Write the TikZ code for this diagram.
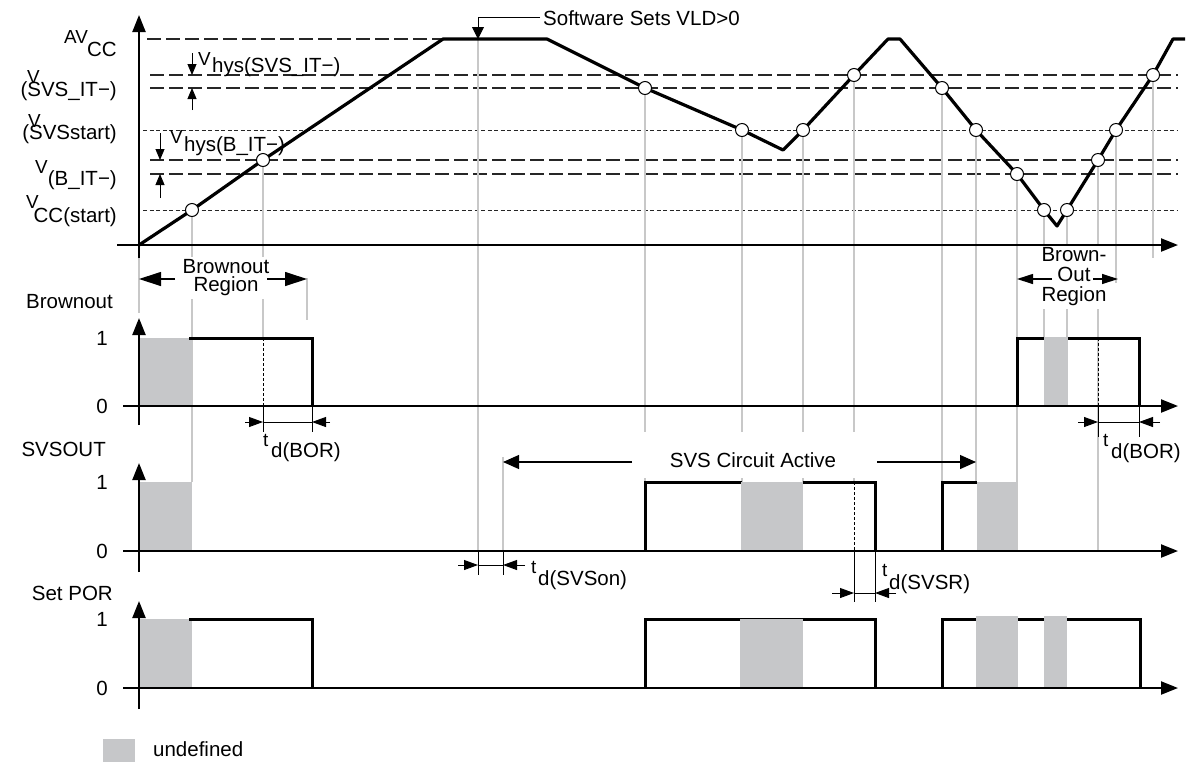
\documentclass[tikz,border=0pt]{standalone}
\usepackage{fontspec}
\usepackage{graphicx}
\setmainfont{Liberation Sans}
\usetikzlibrary{arrows.meta}
\definecolor{gfill}{RGB}{198,199,201}
\definecolor{gline}{RGB}{200,200,200}
\newcommand{\sml}[1]{\scalebox{0.92}{#1}}
\begin{document}
\begin{tikzpicture}[x=1pt,y=-1pt,
  every node/.style={inner sep=0pt, font=\fontsize{20.5}{24}\selectfont},
  axis/.style={line width=2.2pt, -{Triangle[length=17pt,width=13pt]}},
  sig/.style={line width=3pt, line join=miter},
  curve/.style={line width=3.2pt, line join=round},
  gl/.style={gline, line width=2pt},
  ldash/.style={line width=1.2pt, black!85, dash pattern=on 14pt off 5pt},
  ldot/.style={line width=1pt, black!85, dash pattern=on 4pt off 2.5pt},
  tl/.style={line width=0.9pt},
  vdash/.style={line width=0.9pt, dash pattern=on 3pt off 2pt},
  tarr/.style={line width=0.9pt, -{Triangle[length=14pt,width=10pt]}},
  harr/.style={line width=0.9pt, -{Triangle[length=11pt,width=9pt]}},
  bigarr/.style={line width=1.2pt, -{Triangle[length=22pt,width=14pt]}},
  medarr/.style={line width=1.2pt, -{Triangle[length=16pt,width=10pt]}},
  svsarr/.style={line width=1.2pt, -{Triangle[length=16pt,width=14pt]}},
  circ/.style={circle, draw, fill=white, line width=1pt, minimum size=13pt, inner sep=0pt},
  gbox/.style={fill=gfill}
]
\useasboundingbox (0,0) rectangle (1188,764);

% ---------- level lines ----------
\draw[ldash] (147,39) -- (443,39);
\draw[ldash] (150,75) -- (1178,75);
\draw[ldash] (150,88) -- (1178,88);
\draw[ldot] (143,130) -- (1178,130);
\draw[ldash] (150,160) -- (1178,160);
\draw[ldash] (150,174) -- (1178,174);
\draw[ldot] (143,210) -- (1178,210);

% ---------- crossing points ----------
\coordinate (p1) at (192,210);
\coordinate (p2) at (263,160);
\coordinate (p3) at (645,88);
\coordinate (p4) at (742,130);
\coordinate (p5) at (803,130);
\coordinate (p6) at (854,75);
\coordinate (p7) at (942,88);
\coordinate (p8) at (976,130);
\coordinate (p9) at (1017,174);
\coordinate (p10) at (1044,210);
\coordinate (p11) at (1067,210);
\coordinate (p12) at (1098,160);
\coordinate (p13) at (1116,130);
\coordinate (p14) at (1153,75);
\coordinate (vld) at (478,39);

% ---------- gray guide lines ----------
\draw[gl] (p1) -- (192,482);
\draw[gl] (p2) -- (263,338);
\draw[gl] (139,253) -- (139,313);
\draw[gl] (307,278) -- (307,320);
\draw[gl] (vld) -- (478,551);
\draw[gl] (503,457) -- (503,551);
\draw[gl] (p3) -- (645,482);
\draw[gl] (p4) -- (742,482);
\draw[gl] (p5) -- (803,482);
\draw[gl] (p6) -- (854,482);
\draw[gl] (p7) -- (942,482);
\draw[gl] (p8) -- (976,482);
\draw[gl] (p9) -- (1017,551);
\draw[gl] (p10) -- (1044,338);
\draw[gl] (p11) -- (1067,338);
\draw[gl] (p12) -- (1098,551);
\draw[gl] (p13) -- (1116,283);
\draw[gl] (p14) -- (1153,258);

% ---------- white label backgrounds and labels ----------
\node[fill=white, align=center, font=\fontsize{20.5}{18}\selectfont, inner xsep=2pt, inner ysep=3pt] (bor1) at (226,278) {Brownout\\Region};
\node[fill=white, align=center, font=\fontsize{20.5}{20}\selectfont, inner xsep=2pt, inner ysep=3pt] (bor2) at (1074,277) {Brown-\\Out\\Region};
\node[fill=white, minimum width=245pt, minimum height=46pt] (svsbg) at (754.5,455) {};
\node[anchor=base] (svs) at (753,467) {SVS Circuit Active};

\coordinate (b1l) at (175,279);
\coordinate (b1r) at (267,279);
\draw[bigarr] (b1l) -- (139,279);
\draw[bigarr] (b1r) -- (307,279);
\coordinate (b2l) at (1052,279);
\coordinate (b2r) at (1093,279);
\draw[medarr] (b2l) -- (1017,279);
\draw[medarr] (b2r) -- (1118,279);
\coordinate (sl) at (632,462);
\coordinate (sr) at (877,462);
\draw[svsarr] (sl) -- (503,462);
\draw[svsarr] (sr) -- (976,462);

% ---------- main axes ----------
\draw[axis] (117,245) -- (1178,245);
\draw[axis] (139,258) -- (139,15);

% ---------- supply curve ----------
\draw[curve] (139,245) -- (p1) -- (p2) -- (443,39) -- (547,39) -- (p3) -- (p4) -- (783,150)
  -- (p5) -- (p6) -- (888,39) -- (900,39) -- (p7) -- (p8) -- (p9) -- (p10) -- (1057,226)
  -- (p11) -- (p12) -- (p13) -- (p14) -- (1173,39) -- (1185,39);
\foreach \i in {1,...,14} { \node[circ] (c\i) at (p\i) {}; }

% ---------- Software sets VLD ----------
\node[anchor=base west] (sw) at (543,25) {Software Sets VLD>0};
\draw[line width=0.9pt, -{Triangle[length=12pt,width=12pt]}] ([xshift=-3pt]sw.west) -| (vld);

% ---------- left level labels ----------
\node[anchor=base west] (lav) at (64,43) {\sml{AV}};
\node[anchor=base east] (lcc) at (117,56) {CC};
\node[anchor=base west] (lv1) at (27,83) {\sml{V}};
\node[anchor=base east] (ls1) at (117,96) {(SVS\_IT−)};
\node[anchor=base west] (lv2) at (28,127) {\sml{V}};
\node[anchor=base east] (ls2) at (117,139) {(SVSstart)};
\node[anchor=base west] (lv3) at (35,173) {\sml{V}};
\node[anchor=base east] (ls3) at (117,185) {(B\_IT−)};
\node[anchor=base west] (lv4) at (26,208) {\sml{V}};
\node[anchor=base east] (ls4) at (117,222) {CC(start)};

% ---------- hysteresis ----------
\node[anchor=base west] (hv1) at (198,65) {\sml{V}};
\node[anchor=base west] (hs1) at (212,72) {hys(SVS\_IT−)};
\node[anchor=base west] (hv2) at (170,143) {\sml{V}};
\node[anchor=base west] (hs2) at (184,151) {hys(B\_IT−)};
\draw[harr] (192,53) -- (192,75);
\draw[harr] (192,110) -- (192,88);
\draw[harr] (160,133) -- (160,160);
\draw[harr] (160,198) -- (160,174);

% ---------- Brownout ----------
\node[anchor=base east] (brl) at (113,308) {Brownout};
\node[anchor=east] (br1) at (108,338) {1};
\node[anchor=east] (br0) at (108,406) {0};
\fill[gbox] (139,338) rectangle (192,406);
\draw[sig] (189,338) -- (312,338) -- (312,406);
\draw[sig] (1017,406) -- (1017,338) -- (1139,338) -- (1139,406);
\fill[gbox] (1044,337) rectangle (1068,406);
\draw[vdash] (263,338) -- (263,406);
\draw[vdash] (1098,338) -- (1098,406);
\draw[axis] (123,406) -- (1178,406);
\draw[axis] (139,425) -- (139,318);
% t_d(BOR)
\draw[tl] (263,406) -- (263,432);
\draw[tl] (312,406) -- (312,432);
\draw[tl] (263,422) -- (312,422);
\draw[tarr] (245,422) -- (263,422);
\draw[tarr] (330,422) -- (312,422);
\node[anchor=base west] (tb1) at (263,446) {\sml{t}};
\node[anchor=base west] (db1) at (271,457) {d(BOR)};
\draw[tl] (1098,406) -- (1098,437);
\draw[tl] (1139,406) -- (1139,437);
\draw[tl] (1098,422) -- (1139,422);
\draw[tarr] (1078,422) -- (1098,422);
\draw[tarr] (1160,422) -- (1139,422);
\node[anchor=base west] (tb2) at (1103,446) {\sml{t}};
\node[anchor=base west] (db2) at (1111,458) {d(BOR)};

% ---------- SVSOUT ----------
\node[anchor=base east] (svl) at (106,456) {SVSOUT};
\node[anchor=east] (sv1) at (108,482) {1};
\node[anchor=east] (sv0) at (108,551) {0};
\fill[gbox] (139,482) rectangle (192,551);
\draw[sig] (645,551) -- (645,482) -- (742,482);
\draw[sig] (803,482) -- (875,482) -- (875,551);
\fill[gbox] (741,482) rectangle (803,551);
\draw[vdash] (854,482) -- (854,551);
\draw[sig] (942,551) -- (942,482) -- (977,482);
\fill[gbox] (977,482) rectangle (1017,551);
\draw[axis] (123,551) -- (1178,551);
\draw[axis] (139,572) -- (139,463);
% t_d(SVSon)
\draw[tl] (478,551) -- (478,575);
\draw[tl] (503,551) -- (503,575);
\draw[tl] (478,565) -- (503,565);
\draw[tarr] (458,565) -- (478,565);
\draw[tarr] (525,565) -- (503,565);
\node[anchor=base west] (ts1) at (531,573) {\sml{t}};
\node[anchor=base west] (ds1) at (538,585) {d(SVSon)};
% t_d(SVSR)
\draw[tl] (854,551) -- (854,602);
\draw[tl] (875,551) -- (875,602);
\draw[tl] (854,593) -- (875,593);
\draw[tarr] (832,593) -- (854,593);
\draw[tarr] (896,593) -- (875,593);
\node[anchor=base west] (ts2) at (882,576) {\sml{t}};
\node[anchor=base west] (ds2) at (889,589) {d(SVSR)};

% ---------- Set POR ----------
\node[anchor=base east] (spl) at (113,600) {Set POR};
\node[anchor=east] (sp1) at (108,619) {1};
\node[anchor=east] (sp0) at (108,688) {0};
\fill[gbox] (139,619) rectangle (192,688);
\draw[sig] (189,619) -- (312,619) -- (312,688);
\draw[sig] (645,688) -- (645,619) -- (875,619) -- (875,688);
\fill[gbox] (740,619) rectangle (803,688);
\draw[sig] (942,688) -- (942,619) -- (1140,619) -- (1140,688);
\fill[gbox] (976,616) rectangle (1018,688);
\fill[gbox] (1044,616) rectangle (1067,688);
\draw[axis] (123,688) -- (1178,688);
\draw[axis] (139,709) -- (139,601);

% ---------- legend ----------
\fill[gbox] (103,739) rectangle (135,762);
\node[anchor=base west] (leg) at (153,756) {undefined};
\end{tikzpicture}
\end{document}
